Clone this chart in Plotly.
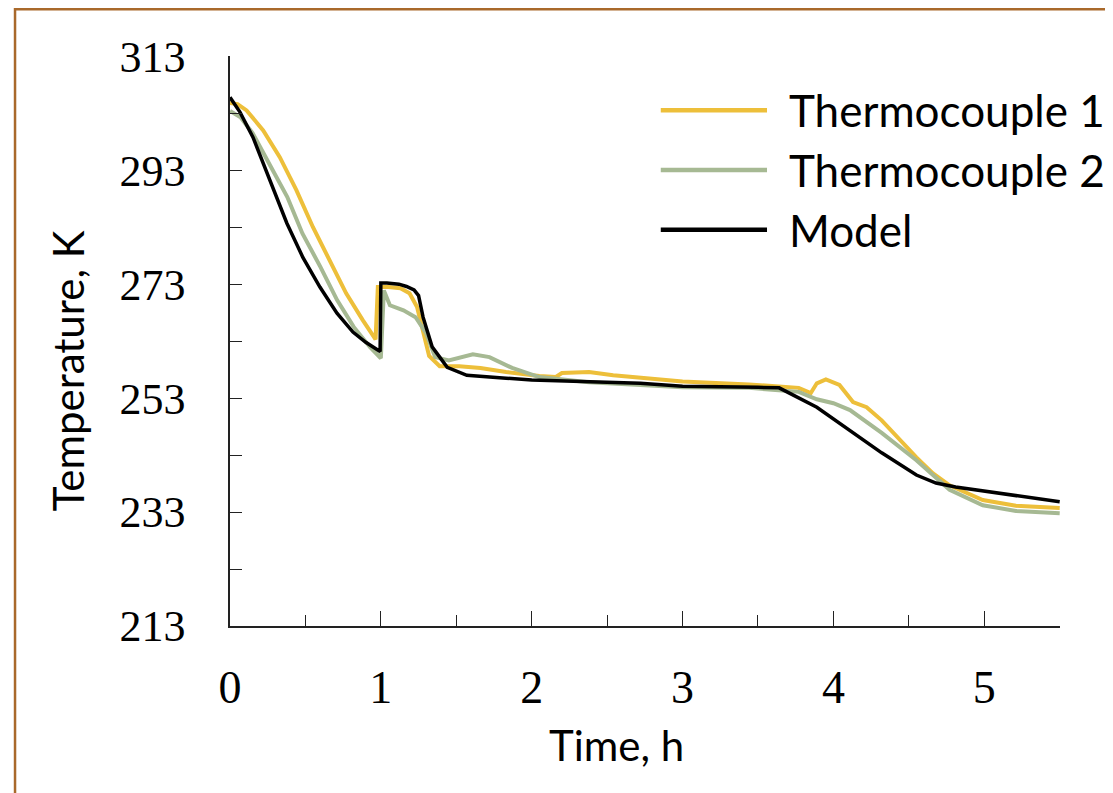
import plotly.graph_objects as go

# thermocouple / model temperatures
time_tc1 = [0, 0.05, 0.11, 0.22, 0.33, 0.44, 0.55, 0.66, 0.77, 0.88, 0.95, 0.965,
            0.98, 1.05, 1.13, 1.19, 1.24, 1.28, 1.32, 1.39, 1.52, 1.66, 1.83, 2.05,
            2.16, 2.2, 2.38, 2.54, 2.72, 3.0, 3.44, 3.77, 3.85, 3.89, 3.95, 4.04,
            4.13, 4.22, 4.32, 4.44, 4.55, 4.66, 4.77, 4.99, 5.21, 5.5]
temp_tc1 = [304.8, 304.6, 303.5, 300.0, 295.3, 289.5, 283.0, 277.2, 271.4, 266.7, 263.7, 263.3,
            272.5, 272.5, 272.3, 271.4, 269.0, 264.4, 260.4, 258.6, 258.6, 258.3, 257.6, 256.9,
            256.7, 257.4, 257.6, 257.0, 256.5, 255.9, 255.4, 254.8, 253.9, 255.6, 256.3, 255.3,
            252.3, 251.4, 249.1, 245.6, 242.6, 239.8, 237.7, 235.1, 234.1, 233.7]

time_tc2 = [0, 0.07, 0.15, 0.26, 0.38, 0.48, 0.60, 0.71, 0.82, 0.93, 0.99, 1.0,
            1.02, 1.06, 1.15, 1.23, 1.30, 1.36, 1.45, 1.61, 1.72, 1.87, 2.05, 2.38,
            2.72, 3.0, 3.44, 3.77, 3.89, 4.0, 4.11, 4.32, 4.55, 4.77, 4.99, 5.21, 5.5]
temp_tc2 = [303.4, 302.3, 299.5, 294.2, 288.3, 281.9, 276.0, 270.2, 265.5, 261.9, 260.2, 260.0,
            271.9, 269.3, 268.4, 267.2, 264.4, 260.2, 259.6, 260.7, 260.2, 258.3, 256.7, 255.8,
            255.3, 254.9, 254.8, 254.1, 252.8, 252.1, 250.9, 246.9, 242.1, 236.9, 234.2, 233.2, 232.8]

time_model = [0, 0.066, 0.152, 0.265, 0.377, 0.483, 0.596, 0.709, 0.815, 0.90, 0.995, 1.0,
              1.04, 1.12, 1.17, 1.22, 1.25, 1.28, 1.34, 1.44, 1.57, 1.83, 2.0, 2.72,
              3.0, 3.5, 3.64, 3.89, 4.11, 4.32, 4.55, 4.68, 4.81, 5.10, 5.5]
temp_model = [305.8, 303.2, 298.8, 291.2, 283.7, 277.7, 272.5, 267.9, 264.6, 262.8, 261.2, 273.2,
              273.2, 273.0, 272.6, 272.0, 271.0, 267.2, 262.0, 258.4, 257.0, 256.5, 256.2, 255.6,
              255.1, 254.9, 254.8, 251.4, 247.4, 243.4, 239.5, 238.1, 237.4, 236.3, 234.8]

series_names = ["Thermocouple 1", "Thermocouple 2", "Model"]
series_colors = ["#EDBF3A", "#A6B993", "#000000"]

y_tickvals = [213, 223, 233, 243, 253, 263, 273, 283, 293, 303, 313]
y_ticktext = ["213", "", "233", "", "253", "", "273", "", "293", "", "313"]
x_tickvals = [0, 1, 2, 3, 4, 5]
x_ticktext = ["0", "1", "2", "3", "4", "5"]

SERIF = "Liberation Serif, Times New Roman, serif"
SANS = "Lato, Roboto, sans-serif"

fig = go.Figure()
data = [(time_tc1, temp_tc1), (time_tc2, temp_tc2), (time_model, temp_model)]
for (t, temp), name, color in zip(data, series_names, series_colors):
    fig.add_trace(go.Scatter(
        x=t, y=temp, mode="lines", name=name,
        line=dict(color=color, width=4 if name != "Model" else 3.5),
        showlegend=False,
    ))

# hand-made legend with long line samples
legend_y = [0.905, 0.80, 0.695]
for name, color, ly in zip(series_names, series_colors, legend_y):
    fig.add_shape(type="line", xref="paper", yref="paper",
                  x0=0.519, x1=0.647, y0=ly, y1=ly,
                  line=dict(color=color, width=4.5))
    fig.add_annotation(text=name, xref="paper", yref="paper", x=0.671, y=ly,
                       xanchor="left", yanchor="middle", showarrow=False,
                       font=dict(family=SANS, size=44, color="black"))

# axis titles
fig.add_annotation(text="Temperature, K", xref="paper", yref="paper",
                   x=-0.195, y=0.447, textangle=-90, showarrow=False,
                   xanchor="center", yanchor="middle",
                   font=dict(family=SANS, size=42, color="black"))
fig.add_annotation(text="Time, h", xref="paper", yref="paper",
                   x=0.466, y=-0.209, showarrow=False,
                   xanchor="center", yanchor="middle",
                   font=dict(family=SANS, size=42, color="black"))

# frame around the whole picture
fig.add_shape(type="rect", xref="paper", yref="paper",
              x0=-0.259, x1=1.0614, y0=-0.4, y1=1.082,
              line=dict(color="#A9692B", width=2.5), layer="below")

# the page body has an 8px margin, so the figure is 8px smaller
fig.update_layout(
    width=1105, height=785,
    margin=dict(l=222, r=53, t=48, b=167),
    paper_bgcolor="white", plot_bgcolor="white",
    xaxis=dict(
        range=[0, 5.502], tickvals=x_tickvals, ticktext=x_ticktext,
        ticks="inside", ticklen=15, tickwidth=1.3, tickcolor="#222",
        minor=dict(dtick=0.5, tick0=0, ticks="inside", ticklen=11,
                   tickwidth=1.3, tickcolor="#222"),
        showline=True, linecolor="#222", linewidth=1.5,
        showgrid=False, zeroline=False, ticklabelstandoff=20,
        tickfont=dict(family=SERIF, size=46, color="black"),
    ),
    yaxis=dict(
        range=[213, 313.05], tickvals=y_tickvals, ticktext=y_ticktext,
        ticks="inside", ticklen=12, tickwidth=1.3, tickcolor="#222",
        showline=True, linecolor="#222", linewidth=1.5,
        showgrid=False, zeroline=False, ticklabelstandoff=34,
        tickfont=dict(family=SERIF, size=44, color="black"),
    ),
)

fig.write_html("out.html")
